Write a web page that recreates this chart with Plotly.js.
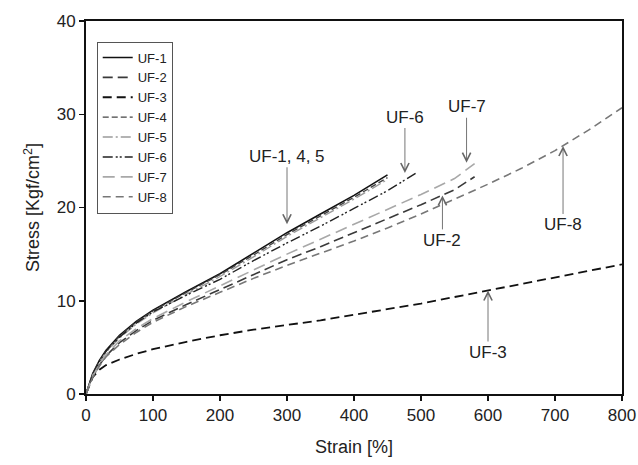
<!DOCTYPE html>
<html>
<head>
<meta charset="utf-8">
<script src="https://cdn.plot.ly/plotly-3.0.1.min.js"></script>
<style>html,body{margin:0;padding:0;background:#fff;}#chart{width:638px;height:465px;}</style>
</head>
<body>
<div id="chart"></div>
<script>
// Strain [%]
const strainShort = [0, 5, 10, 20, 30, 50, 75, 100, 150, 200, 250, 300, 350, 400, 450];
const strainUF6   = [0, 5, 10, 20, 30, 50, 75, 100, 150, 200, 250, 300, 350, 400, 450, 495];
const strainUF27  = [0, 5, 10, 20, 30, 50, 75, 100, 150, 200, 250, 300, 350, 400, 450, 500, 550, 580];
const strainLong  = [0, 5, 10, 20, 30, 50, 75, 100, 150, 200, 250, 300, 350, 400, 450, 500, 550, 600, 650, 700, 750, 800];

// Stress [Kgf/cm2]
const uf1 = [0, 1.2, 2.2, 3.6, 4.7, 6.3, 7.8, 9.0, 11.0, 12.9, 15.1, 17.3, 19.3, 21.3, 23.5];
const uf4 = [0, 1.1, 2.1, 3.5, 4.6, 6.2, 7.7, 8.9, 10.9, 12.8, 14.9, 17.1, 19.1, 21.1, 23.2];
const uf5 = [0, 1.0, 2.0, 3.4, 4.5, 6.0, 7.5, 8.7, 10.7, 12.6, 14.7, 16.9, 18.9, 20.9, 23.0];
const uf6 = [0, 1.1, 2.1, 3.5, 4.6, 6.1, 7.6, 8.8, 10.6, 12.3, 14.3, 16.2, 18.0, 19.9, 21.8, 23.8];
const uf7 = [0, 1.0, 1.9, 3.2, 4.2, 5.7, 7.0, 8.1, 9.9, 11.6, 13.3, 15.0, 16.6, 18.2, 19.8, 21.4, 23.1, 24.7];
const uf2 = [0, 0.9, 1.8, 3.1, 4.1, 5.5, 6.8, 7.9, 9.6, 11.2, 12.8, 14.4, 15.8, 17.3, 18.8, 20.3, 21.9, 23.3];
const uf8 = [0, 0.9, 1.8, 3.0, 4.0, 5.3, 6.6, 7.7, 9.4, 10.9, 12.4, 13.8, 15.1, 16.4, 17.8, 19.3, 20.9, 22.5, 24.2, 26.1, 28.3, 30.7];
const uf3 = [0, 1.0, 1.8, 2.6, 3.1, 3.7, 4.3, 4.8, 5.6, 6.3, 6.9, 7.4, 7.9, 8.5, 9.1, 9.7, 10.4, 11.1, 11.8, 12.5, 13.2, 13.9];

// Callout labels
const calloutText = ["UF-1, 4, 5", "UF-6", "UF-7", "UF-2", "UF-8", "UF-3"];
const calloutX    = [300, 476, 568, 532, 712, 600];
const calloutY    = [18.2, 23.7, 24.8, 21.3, 26.6, 11.1];
const calloutAY   = [-68, -56, -56, 45, 79, 62];

const xTicks = [0, 100, 200, 300, 400, 500, 600, 700, 800];
const yTicks = [0, 10, 20, 30, 40];

const traces = [
  {name: "UF-1", x: strainShort, y: uf1, line: {color: "#111", width: 1.6, dash: "solid"}},
  {name: "UF-2", x: strainUF27, y: uf2, line: {color: "#3a3a3a", width: 1.6, dash: "10px,5px"}},
  {name: "UF-3", x: strainLong, y: uf3, line: {color: "#111", width: 1.8, dash: "9px,5px"}},
  {name: "UF-4", x: strainShort, y: uf4, line: {color: "#444", width: 1.4, dash: "6px,3px"}},
  {name: "UF-5", x: strainShort, y: uf5, line: {color: "#9a9a9a", width: 1.4, dash: "10px,3px,2px,3px"}},
  {name: "UF-6", x: strainUF6, y: uf6, line: {color: "#222", width: 1.4, dash: "10px,3px,2px,2px,2px,3px"}},
  {name: "UF-7", x: strainUF27, y: uf7, line: {color: "#a8a8a8", width: 1.6, dash: "12px,6px"}},
  {name: "UF-8", x: strainLong, y: uf8, line: {color: "#777", width: 1.6, dash: "8px,5px"}}
].map(t => Object.assign({type: "scatter", mode: "lines"}, t));

const annotations = calloutText.map((t, i) => ({
  x: calloutX[i], y: calloutY[i], xref: "x", yref: "y",
  text: t, showarrow: true, ax: 0, ay: calloutAY[i],
  arrowhead: 5, arrowsize: 1.8, arrowwidth: 0.9, arrowcolor: "#666",
  font: {size: 17, color: "#222"}
}));

const layout = {
  width: 638, height: 465,
  margin: {l: 86, r: 16, t: 21, b: 71},
  paper_bgcolor: "#fff", plot_bgcolor: "#fff",
  font: {family: "Liberation Sans, Arial, sans-serif", color: "#222"},
  showlegend: true,
  legend: {x: 0.02, y: 0.945, xanchor: "left", yanchor: "top",
           bgcolor: "#fff", bordercolor: "#555", borderwidth: 1,
           font: {size: 13, color: "#222"}, tracegroupgap: 0,
           entrywidth: 110, entrywidthmode: "pixels"},
  xaxis: {range: [0, 800], tickvals: xTicks, ticks: "outside", ticklen: 5, tickwidth: 1.5, tickcolor: "#111",
          showline: true, linecolor: "#111", linewidth: 2, mirror: true, showgrid: false, zeroline: false,
          tickfont: {size: 17}, title: {text: "Strain [%]", font: {size: 18}, standoff: 16}},
  yaxis: {range: [0, 40], tickvals: yTicks, ticks: "outside", ticklen: 5, tickwidth: 1.5, tickcolor: "#111",
          showline: true, linecolor: "#111", linewidth: 2, mirror: true, showgrid: false, zeroline: false,
          tickfont: {size: 17}, title: {text: "Stress [Kgf/cm<sup>2</sup>]", font: {size: 18}, standoff: 12}},
  annotations: annotations
};

Plotly.newPlot("chart", traces, layout, {displayModeBar: false, staticPlot: true});
</script>
</body>
</html>
